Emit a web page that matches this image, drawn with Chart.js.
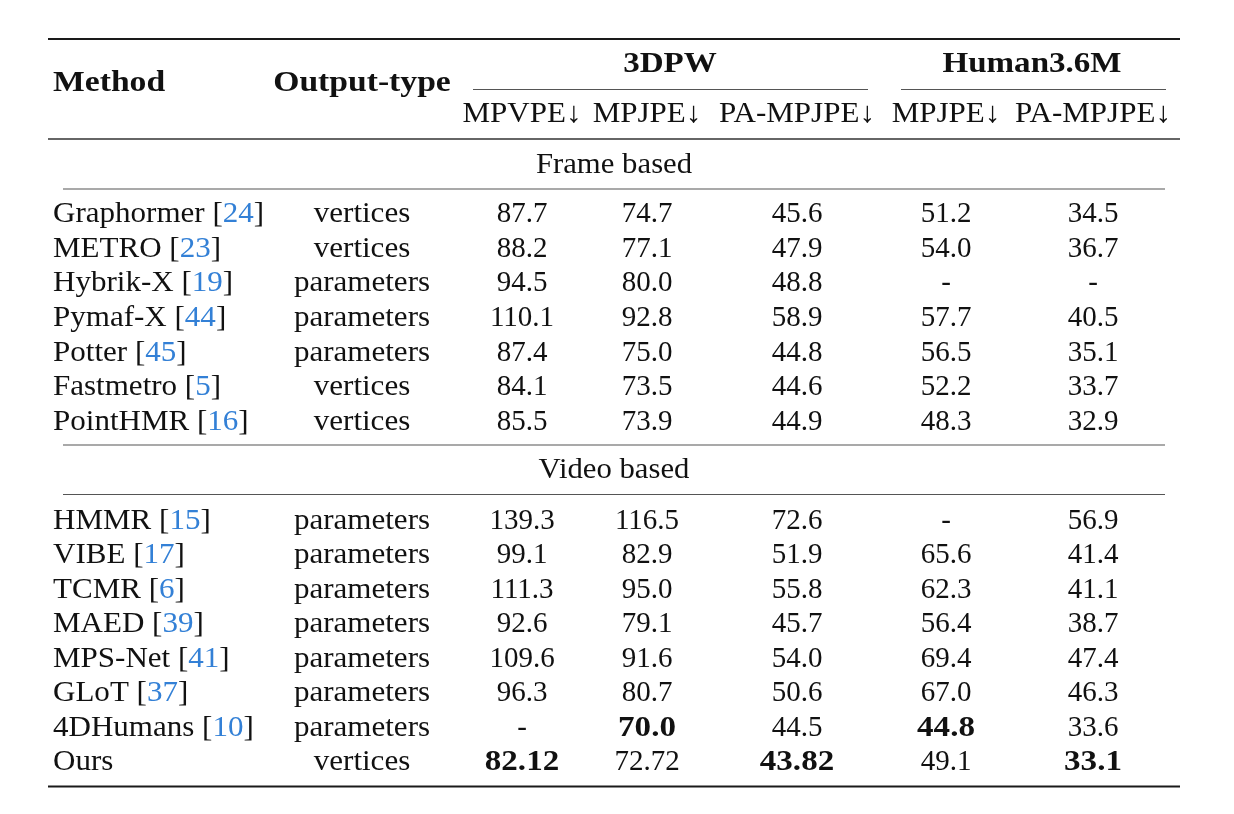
<!DOCTYPE html>
<html>
<head>
<meta charset="utf-8">
<script src="https://cdn.jsdelivr.net/npm/chart.js@4"></script>
<style>
html,body{margin:0;padding:0;background:#fff;}
#wrap{width:1234px;height:814px;}
</style>
</head>
<body>
<div id="wrap"><canvas id="c" width="1234" height="814"></canvas></div>
<script>
// ---------------- DATA ----------------
const methods = ['Graphormer','METRO','Hybrik-X','Pymaf-X','Potter','Fastmetro','PointHMR',
  'HMMR','VIBE','TCMR','MAED','MPS-Net','GLoT','4DHumans','Ours'];
const citations = ['24','23','19','44','45','5','16','15','17','6','39','41','37','10',null];
const outputTypes = ['vertices','vertices','parameters','parameters','parameters','vertices','vertices',
  'parameters','parameters','parameters','parameters','parameters','parameters','parameters','vertices'];
const mpvpe3dpw   = [87.7, 88.2, 94.5, 110.1, 87.4, 84.1, 85.5, 139.3, 99.1, 111.3, 92.6, 109.6, 96.3, null, 82.12];
const mpjpe3dpw   = [74.7, 77.1, 80.0, 92.8, 75.0, 73.5, 73.9, 116.5, 82.9, 95.0, 79.1, 91.6, 80.7, 70.0, 72.72];
const pampjpe3dpw = [45.6, 47.9, 48.8, 58.9, 44.8, 44.6, 44.9, 72.6, 51.9, 55.8, 45.7, 54.0, 50.6, 44.5, 43.82];
const mpjpeH36m   = [51.2, 54.0, null, 57.7, 56.5, 52.2, 48.3, null, 65.6, 62.3, 56.4, 69.4, 67.0, 44.8, 49.1];
const pampjpeH36m = [34.5, 36.7, null, 40.5, 35.1, 33.7, 32.9, 56.9, 41.4, 41.1, 38.7, 47.4, 46.3, 33.6, 33.1];
const valueColumns = [mpvpe3dpw, mpjpe3dpw, pampjpe3dpw, mpjpeH36m, pampjpeH36m];
const boldMethodPerColumn = ['Ours', '4DHumans', 'Ours', '4DHumans', 'Ours'];
const columnHeaders = ['MPVPE\u2193','MPJPE\u2193','PA-MPJPE\u2193','MPJPE\u2193','PA-MPJPE\u2193'];
const groupHeaders = ['3DPW','Human3.6M'];
const leftHeaders = ['Method','Output-type'];
const sectionLabels = ['Frame based','Video based'];
const sectionSizes = [7, 8];

// ---------------- LAYOUT / STYLE ----------------
const L = {
  methodX: 53, typeX: 362, valueX: [522, 647, 797, 946, 1093],
  groupX: [670, 1032], groupSpan: [[473, 868], [901, 1166]],
  fullRule: [48, 1180], sectionRule: [63, 1165],
  topRuleY: 39, headBase: 91, groupBase: 72, cmidY: 89.5, subBase: 122, midRuleY: 139,
  sections: [
    {labelBase: 173, ruleTop: null, ruleY: 189, firstBase: 222, step: 34.67},
    {labelBase: 478, ruleTop: 445, ruleY: 494.5, firstBase: 529, step: 34.43}
  ],
  sectionCenterX: 614,
  bottomRuleY: 786.5
};
const FONT = '"Liberation Serif", "Times New Roman", serif';
const SIZE = 29;
const INK = '#111';
const CITE = '#3380d6';

function fmt(v) {
  if (v === null) return '-';
  const t = v * 10;
  return Math.abs(t - Math.round(t)) < 1e-6 ? v.toFixed(1) : v.toFixed(2);
}

// row baselines (y values on the linear y scale)
const rowY = [];
sectionSizes.forEach((n, s) => {
  for (let i = 0; i < n; i++) rowY.push(L.sections[s].firstBase + i * L.sections[s].step);
});

// datasets: one per table column
const datasets = [];
datasets.push({
  label: 'Method', kind: 'method',
  data: methods.map((m, i) => ({x: L.methodX, y: rowY[i]}))
});
datasets.push({
  label: 'Output-type', kind: 'type',
  data: outputTypes.map((t, i) => ({x: L.typeX, y: rowY[i]}))
});
valueColumns.forEach((col, k) => {
  datasets.push({
    label: columnHeaders[k], kind: 'value', values: col,
    boldRow: methods.indexOf(boldMethodPerColumn[k]),
    data: col.map((v, i) => ({x: L.valueX[k], y: rowY[i]}))
  });
});
datasets.forEach(d => { d.pointRadius = 0; d.pointHoverRadius = 0; d.showLine = false; });

function drawSegs(ctx, segs, x, y, align, font, stretch) {
  ctx.font = font;
  let total = 0;
  segs.forEach(s => total += ctx.measureText(s.text).width * stretch);
  let cx = align === 'left' ? x : align === 'center' ? x - total / 2 : x - total;
  ctx.textAlign = 'left';
  ctx.textBaseline = 'alphabetic';
  segs.forEach(s => {
    ctx.save();
    ctx.translate(cx, y);
    ctx.scale(stretch, 1);
    ctx.fillStyle = s.color || INK;
    ctx.fillText(s.text, 0, 0);
    ctx.restore();
    cx += ctx.measureText(s.text).width * stretch;
  });
}

const tablePlugin = {
  id: 'tableText',
  afterDatasetsDraw(chart) {
    const ctx = chart.ctx;
    const xs = chart.scales.x, ys = chart.scales.y;
    const X = v => xs.getPixelForValue(v), Y = v => ys.getPixelForValue(v);
    const reg = SIZE + 'px ' + FONT;
    const bold = 'bold ' + SIZE + 'px ' + FONT;

    function rule(x0, x1, y, w, color) {
      ctx.save();
      ctx.strokeStyle = color; ctx.lineWidth = w;
      ctx.beginPath(); ctx.moveTo(X(x0), Y(y)); ctx.lineTo(X(x1), Y(y)); ctx.stroke();
      ctx.restore();
    }
    // rules
    rule(L.fullRule[0], L.fullRule[1], L.topRuleY, 2.2, '#1a1a1a');
    rule(L.fullRule[0], L.fullRule[1], L.midRuleY, 1.4, '#333');
    rule(L.fullRule[0], L.fullRule[1], L.bottomRuleY, 2.2, '#1a1a1a');
    L.groupSpan.forEach(g => rule(g[0], g[1], L.cmidY, 1.2, '#555'));
    L.sections.forEach(s => {
      if (s.ruleTop !== null) rule(L.sectionRule[0], L.sectionRule[1], s.ruleTop, 1.2, '#555');
      rule(L.sectionRule[0], L.sectionRule[1], s.ruleY, 1.2, '#555');
    });

    // headers
    drawSegs(ctx, [{text: leftHeaders[0]}], X(L.methodX), Y(L.headBase), 'left', bold, 1.16);
    drawSegs(ctx, [{text: leftHeaders[1]}], X(L.typeX), Y(L.headBase), 'center', bold, 1.16);
    groupHeaders.forEach((g, i) =>
      drawSegs(ctx, [{text: g}], X(L.groupX[i]), Y(L.groupBase), 'center', bold, 1.14));
    columnHeaders.forEach((h, k) =>
      drawSegs(ctx, [{text: h}], X(L.valueX[k]), Y(L.subBase), 'center', reg, 1.07));
    sectionLabels.forEach((s, i) =>
      drawSegs(ctx, [{text: s}], X(L.sectionCenterX), Y(L.sections[i].labelBase), 'center', reg, 1.06));

    // cells from dataset elements
    chart.data.datasets.forEach((ds, d) => {
      const meta = chart.getDatasetMeta(d);
      meta.data.forEach((el, i) => {
        if (ds.kind === 'method') {
          const segs = [{text: methods[i]}];
          if (citations[i]) segs.push({text: ' ['}, {text: citations[i], color: CITE}, {text: ']'});
          drawSegs(ctx, segs, el.x, el.y, 'left', reg, 1.07);
        } else if (ds.kind === 'type') {
          drawSegs(ctx, [{text: outputTypes[i]}], el.x, el.y, 'center', reg, 1.07);
        } else {
          const v = ds.values[i];
          const isBold = i === ds.boldRow;
          drawSegs(ctx, [{text: fmt(v)}], el.x, el.y, 'center', isBold ? bold : reg, isBold ? 1.14 : 1.0);
        }
      });
    });
  }
};

new Chart(document.getElementById('c'), {
  type: 'scatter',
  data: {datasets: datasets},
  options: {
    responsive: false, animation: false, devicePixelRatio: 1,
    layout: {padding: 0},
    plugins: {legend: {display: false}, tooltip: {enabled: false}},
    events: [],
    scales: {
      x: {type: 'linear', display: false, min: 0, max: 1234},
      y: {type: 'linear', display: false, min: 0, max: 814, reverse: true}
    }
  },
  plugins: [tablePlugin]
});
</script>
</body>
</html>
